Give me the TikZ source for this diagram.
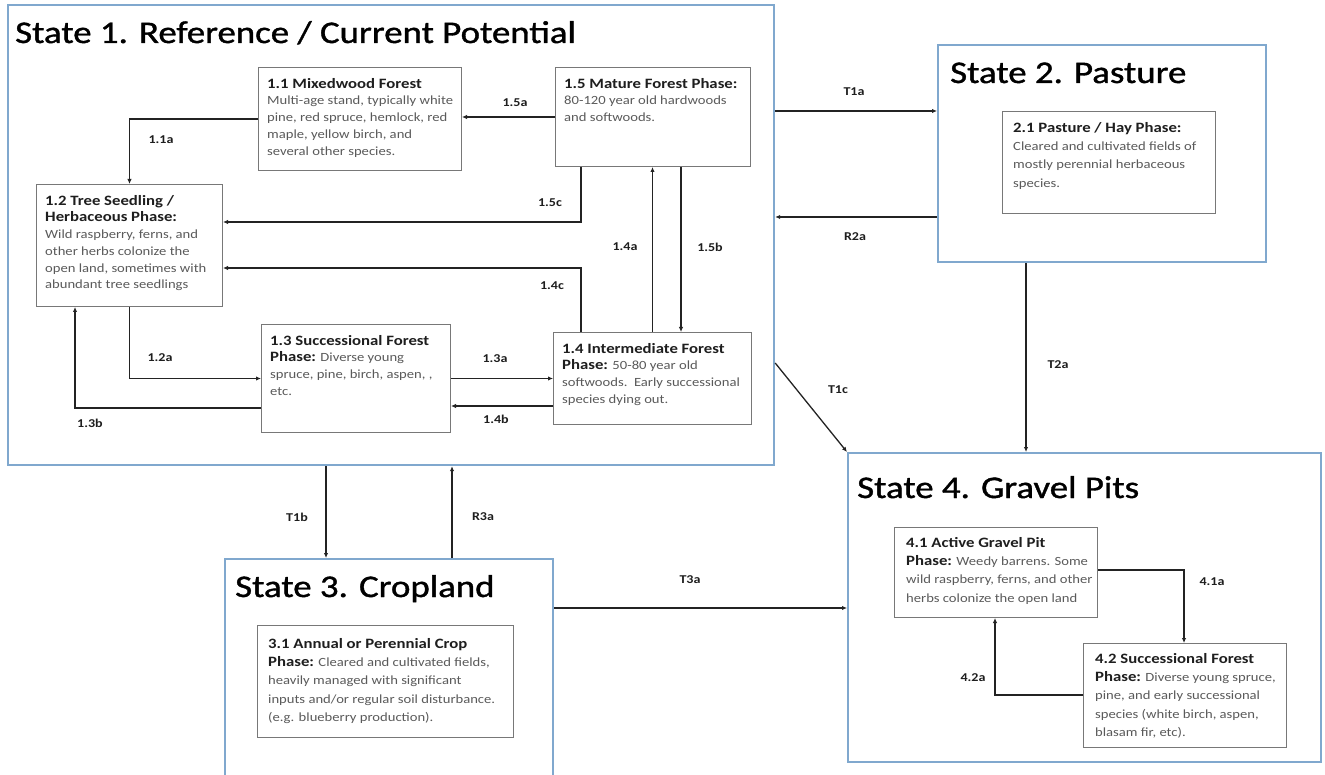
\documentclass[tikz,border=0pt]{standalone}
\usepackage{fontspec}
\setmainfont[FakeStretch=1.17]{Carlito}
\newfontfamily\titlefont[FakeStretch=1.17,FakeBold=1.2]{Carlito}
\usetikzlibrary{arrows.meta,calc}
\definecolor{stateblue}{RGB}{128,168,206}
\definecolor{boxgray}{RGB}{120,120,120}
\definecolor{bodygray}{RGB}{90,90,90}
\definecolor{headcol}{RGB}{30,30,30}
\definecolor{arrowcol}{RGB}{35,35,35}
\newcommand\hd[1]{{\color{headcol}\bfseries\fontsize{14.3}{16.5}\selectfont #1}}
\tikzset{
 statebox/.style={draw=stateblue, line width=2.2pt, fill=white, inner sep=0pt, anchor=north west},
 phasebox/.style={draw=boxgray, line width=1pt, fill=white, inner sep=0pt, anchor=north west},
 phasetext/.style={anchor=north west, inner sep=0pt, align=left, text=bodygray, font=\fontsize{12.5}{16.7}\selectfont},
 phasetextb/.style={phasetext, font=\fontsize{12.5}{18.3}\selectfont},
 statetitle/.style={anchor=base west, inner sep=0pt, text=black, font=\titlefont\fontsize{31.5}{36}\selectfont},
 lab/.style={inner sep=0pt, text=headcol, font=\bfseries\fontsize{12}{14}\selectfont},
 arr/.style={draw=arrowcol, line width=1.3pt, -{Latex[length=5pt,width=4.5pt]}},
}
\begin{document}
\begin{tikzpicture}[x=1pt,y=-1pt]
\useasboundingbox (0,0) rectangle (1325,775);
% state boxes
\node[statebox, minimum width=766pt, minimum height=460pt] (s1) at (7,4) {};
\node[statebox, minimum width=328pt, minimum height=217pt] (s2) at (937,44) {};
\node[statebox, minimum width=328pt, minimum height=222pt] (s3) at (224,558) {};
\node[statebox, minimum width=473pt, minimum height=309pt] (s4) at (847,452) {};
\node[statetitle] (t1) at (15,43) {State 1. Reference / Current Potential};
\node[statetitle] (t2) at (950,83) {State 2. Pasture};
\node[statetitle] (t3) at (235,597) {State 3. Cropland};
\node[statetitle] (t4) at (857,498) {State 4. Gravel Pits};
% phase boxes
\node[phasebox, minimum width=203pt, minimum height=103pt] (n11) at (258,67) {};
\node[phasebox, minimum width=195pt, minimum height=99pt] (n15) at (555,67) {};
\node[phasebox, minimum width=186pt, minimum height=122pt] (n12) at (36,184) {};
\node[phasebox, minimum width=189pt, minimum height=108pt] (n13) at (261,324) {};
\node[phasebox, minimum width=198pt, minimum height=92pt] (n14) at (553,332) {};
\node[phasebox, minimum width=213pt, minimum height=102pt] (n21) at (1002,111) {};
\node[phasebox, minimum width=256pt, minimum height=112pt] (n31) at (257,625) {};
\node[phasebox, minimum width=203pt, minimum height=90pt] (n41) at (894,527) {};
\node[phasebox, minimum width=203pt, minimum height=104pt] (n42) at (1083,643) {};
% phase texts
\node[phasetext] (x11) at ($(n11.north west)+(9,11)$) {\hd{1.1 Mixedwood Forest}\\Multi-age stand, typically white\\pine, red spruce, hemlock, red\\maple, yellow birch, and\\several other species.};
\node[phasetext] (x15) at ($(n15.north west)+(9,11)$) {\hd{1.5 Mature Forest Phase:}\\80-120 year old hardwoods\\and softwoods.};
\node[phasetext] (x12) at ($(n12.north west)+(9,11)$) {\hd{1.2 Tree Seedling /}\\\hd{Herbaceous Phase:}\\Wild raspberry, ferns, and\\other herbs colonize the\\open land, sometimes with\\abundant tree seedlings};
\node[phasetext] (x13) at ($(n13.north west)+(9,11)$) {\hd{1.3 Successional Forest}\\\hd{Phase:} Diverse young\\spruce, pine, birch, aspen, ,\\etc.};
\node[phasetext] (x14) at ($(n14.north west)+(9,11)$) {\hd{1.4 Intermediate Forest}\\\hd{Phase:} 50-80 year old\\softwoods.\ \ Early successional\\species dying out.};
\node[phasetextb] (x21) at ($(n21.north west)+(11,11)$) {\hd{2.1 Pasture / Hay Phase:}\\Cleared and cultivated fields of\\mostly perennial herbaceous\\species.};
\node[phasetextb] (x31) at ($(n31.north west)+(11,13)$) {\hd{3.1 Annual or Perennial Crop}\\\hd{Phase:} Cleared and cultivated fields,\\heavily managed with significant\\inputs and/or regular soil disturbance.\\(e.g. blueberry production).};
\node[phasetextb] (x41) at ($(n41.north west)+(12,10)$) {\hd{4.1 Active Gravel Pit}\\\hd{Phase:} Weedy barrens. Some\\wild raspberry, ferns, and other\\herbs colonize the open land};
\node[phasetextb] (x42) at ($(n42.north west)+(12,10)$) {\hd{4.2 Successional Forest}\\\hd{Phase:} Diverse young spruce,\\pine, and early successional\\species (white birch, aspen,\\blasam fir, etc).};
% helper coordinates
\coordinate (c15c) at ($(n15.south west)+(26,0)$);
\coordinate (c12c) at ($(n12.north east)+(0,38)$);
\coordinate (c14c) at ($(n14.north west)+(28,0)$);
\coordinate (c12d) at ($(n12.north east)+(0,84)$);
\coordinate (c15b) at ($(n15.south)+(28,0)$);
\coordinate (c13b) at ($(n13.south west)+(0,-25)$);
\coordinate (c12b) at ($(n12.south west)+(39,0)$);
\coordinate (c14b) at ($(n14.south west)+(0,-19)$);
\coordinate (cT1a) at ($(s1.north east)+(0,107)$);
\coordinate (cR2a) at ($(s2.north west)+(0,173)$);
\coordinate (cT2a) at ($(s2.south west)+(89,0)$);
\coordinate (cT1c) at ($(s1.north east)+(0,359)$);
\coordinate (cT1b) at ($(s1.south west)+(319,0)$);
\coordinate (cR3a) at ($(s3.north west)+(228,0)$);
\coordinate (cT3a) at ($(s3.north east)+(0,50)$);
\coordinate (c41a) at ($(n41.north east)+(0,43)$);
\coordinate (c42t) at ($(n42.north west)+(101,0)$);
\coordinate (c42a) at ($(n42.north west)+(0,52)$);
\coordinate (c41b) at ($(n41.south west)+(101,0)$);
% connectors
\draw[arr] (n15.west) -- (n15.west -| n11.east);
\draw[arr] (n11.west) -| (n12.north);
\draw[arr] (c15c) |- (c12c);
\draw[arr] (c14c) |- (c12d);
\draw[arr] (n14.north) -- (n14.north |- n15.south);
\draw[arr] (c15b) -- (c15b |- n14.north);
\draw[arr] (n12.south) |- (n13.west);
\draw[arr] (c13b) -| (c12b);
\draw[arr] (n13.east) -- (n13.east -| n14.west);
\draw[arr] (c14b) -- (c14b -| n13.east);
\draw[arr] (cT1a) -- (cT1a -| s2.west);
\draw[arr] (cR2a) -- (cR2a -| s1.east);
\draw[arr] (cT2a) -- (cT2a |- s4.north);
\draw[arr] (cT1c) -- (s4.north west);
\draw[arr] (cT1b) -- (cT1b |- s3.north);
\draw[arr] (cR3a) -- (cR3a |- s1.south);
\draw[arr] (cT3a) -- (cT3a -| s4.west);
\draw[arr] (c41a) -| (c42t);
\draw[arr] (c42a) -| (c41b);
% labels
\node[lab] (l15a) at (515,103) {1.5a};
\node[lab] (l11a) at (161,140) {1.1a};
\node[lab] (l15c) at (550,203) {1.5c};
\node[lab] (l14a) at (625,247) {1.4a};
\node[lab] (l15b) at (710,247) {1.5b};
\node[lab] (l14c) at (552,286) {1.4c};
\node[lab] (l12a) at (160,358) {1.2a};
\node[lab] (l13b) at (90,423) {1.3b};
\node[lab] (l13a) at (495,359) {1.3a};
\node[lab] (l14b) at (496,419) {1.4b};
\node[lab] (lT1a) at (854,92) {T1a};
\node[lab] (lR2a) at (855,237) {R2a};
\node[lab] (lT2a) at (1058,365) {T2a};
\node[lab] (lT1c) at (838,390) {T1c};
\node[lab] (lT1b) at (297,517) {T1b};
\node[lab] (lR3a) at (483,517) {R3a};
\node[lab] (lT3a) at (690,580) {T3a};
\node[lab] (l41a) at (1212,582) {4.1a};
\node[lab] (l42a) at (973,678) {4.2a};
\end{tikzpicture}
\end{document}
